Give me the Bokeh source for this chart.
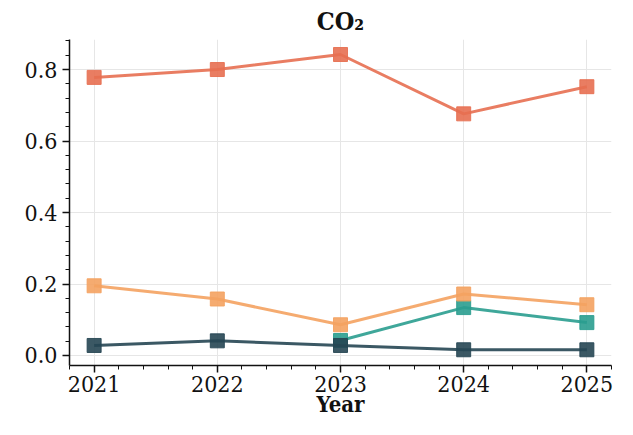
import math
from bokeh.plotting import figure
from bokeh.models import Range1d, FixedTicker, PrintfTickFormatter
from bokeh.embed import file_html
from bokeh.resources import INLINE

years = [2021, 2022, 2023, 2024, 2025]
series_red = [0.778, 0.800, 0.842, 0.676, 0.752]
series_orange = [0.195, 0.158, 0.086, 0.172, 0.142]
series_teal = [float("nan"), float("nan"), 0.042, 0.134, 0.092]
series_dark = [0.028, 0.041, 0.028, 0.016, 0.016]
y_ticks = [0.0, 0.2, 0.4, 0.6, 0.8]

colors = {"red": "#e76f51", "orange": "#f4a261", "teal": "#2a9d8f", "dark": "#264653"}
FONT = "DejaVu Serif Condensed"

p = figure(width=617, height=419, output_backend="svg", toolbar_location=None,
           x_range=Range1d(2020.8, 2025.2), y_range=Range1d(-0.028, 0.884),
           min_border_left=69, min_border_right=6, min_border_top=4, min_border_bottom=0)

p.title.text = "CO₂"
p.title.align = "center"
p.title.text_font = FONT
p.title.text_font_style = "bold"
p.title.text_font_size = "25px"
p.title.text_color = "#111111"
p.title.standoff = 8

order = [("teal", series_teal), ("dark", series_dark), ("orange", series_orange), ("red", series_red)]
for name, vals in order:
    c = colors[name]
    p.line(years, vals, line_color=c, line_width=3, line_alpha=0.9)
    p.scatter(years, vals, marker="square", size=14, fill_color=c, line_color=c,
              fill_alpha=0.9, line_alpha=0.9)

minor_x = [round(2020.8 + 0.2 * i, 2) for i in range(23)]
minor_y = [round(0.04 * i, 3) for i in range(23)]
p.xaxis.ticker = FixedTicker(ticks=years, minor_ticks=minor_x)
p.yaxis.ticker = FixedTicker(ticks=y_ticks, minor_ticks=minor_y)
p.xaxis.formatter = PrintfTickFormatter(format="%d")
p.yaxis.formatter = PrintfTickFormatter(format="%.1f")

p.xaxis.axis_label = "Year"
p.xaxis.axis_label_text_font = FONT
p.xaxis.axis_label_text_font_style = "bold"
p.xaxis.axis_label_text_font_size = "22px"
p.xaxis.axis_label_text_color = "#111111"
p.xaxis.axis_label_standoff = -4

for ax in (p.xaxis, p.yaxis):
    ax.major_label_text_font = FONT
    ax.major_label_text_font_size = "23px"
    ax.major_label_text_color = "#111111"
    ax.axis_line_color = "#111111"
    ax.axis_line_width = 1.5
    ax.major_tick_line_color = "#111111"
    ax.major_tick_line_width = 1.5
    ax.major_tick_out = 7
    ax.major_tick_in = 0
    ax.minor_tick_line_color = "#111111"
    ax.minor_tick_line_width = 1
    ax.minor_tick_out = 4
    ax.minor_tick_in = 0
p.yaxis.major_label_standoff = 5
p.xaxis.major_label_standoff = 3

p.xgrid.grid_line_color = "#e6e6e6"
p.ygrid.grid_line_color = "#e6e6e6"
p.outline_line_color = None
p.background_fill_color = "white"
p.border_fill_color = "white"

open("out.html", "w").write(file_html(p, INLINE))
